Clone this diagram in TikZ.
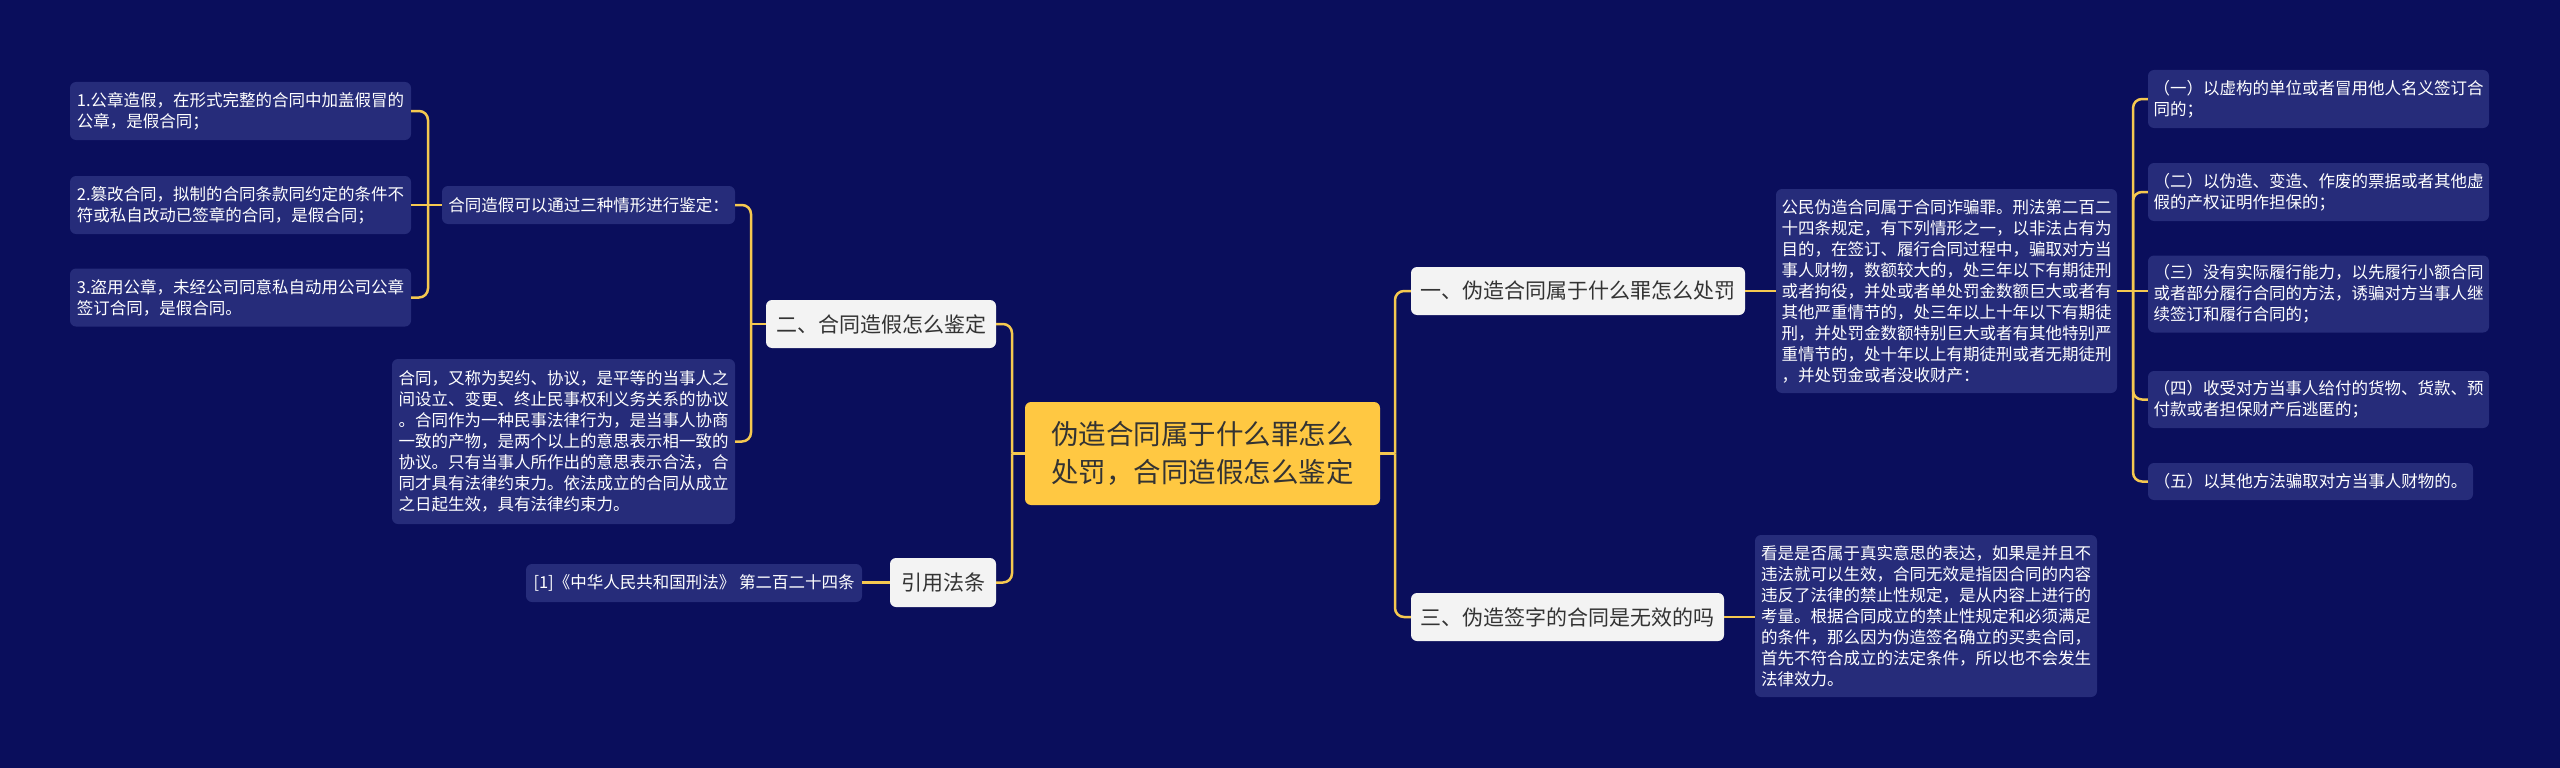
\documentclass[tikz,border=0pt]{standalone}
\usepackage{fontspec}
\setmainfont{Noto Sans CJK SC}
\usetikzlibrary{calc}
\definecolor{bg}{RGB}{10,14,92}
\definecolor{leaf}{RGB}{38,44,122}
\definecolor{branch}{RGB}{243,243,243}
\definecolor{root}{RGB}{255,200,66}
\definecolor{wire}{RGB}{245,200,80}
\definecolor{ink}{RGB}{51,51,51}
\begin{document}
\begin{tikzpicture}[x=1pt,y=-1pt,
  leafbox/.style={fill=leaf, rounded corners=6pt, text=white, align=left, inner sep=0pt, font=\fontsize{16.5}{21}\selectfont},
  branchbox/.style={fill=branch, rounded corners=6pt, text=ink, align=center, inner sep=0pt, font=\fontsize{21}{26}\selectfont},
  rootbox/.style={fill=root, rounded corners=6pt, text=ink, align=left, inner sep=0pt, font=\fontsize{27.5}{38}\selectfont},
  conn/.style={draw=wire, line width=2.5pt, rounded corners=9pt}
]
\useasboundingbox (0,0) rectangle (2560,768);
\fill[bg] (0,0) rectangle (2560,768);

% root
\node[rootbox, minimum width=355pt, minimum height=103pt] (root) at (1202.5,453.5) {伪造合同属于什么罪怎么\\处罚，合同造假怎么鉴定};

% left side
\node[branchbox, minimum width=230pt, minimum height=48pt] (n2) at (881,324) {二、合同造假怎么鉴定};
\node[branchbox, minimum width=106pt, minimum height=49pt] (n4) at (943,582.5) {引用法条};
\node[leafbox, minimum width=293pt, minimum height=38pt] (hd) at (588.5,205) {合同造假可以通过三种情形进行鉴定：};
\node[leafbox, minimum width=341pt, minimum height=58pt] (b1) at (240.5,111) {1.公章造假，在形式完整的合同中加盖假冒的\\公章，是假合同；};
\node[leafbox, minimum width=341pt, minimum height=58pt] (b2) at (240.5,205) {2.篡改合同，拟制的合同条款同约定的条件不\\符或私自改动已签章的合同，是假合同；};
\node[leafbox, minimum width=341pt, minimum height=58pt] (b3) at (240.5,297.5) {3.盗用公章，未经公司同意私自动用公司公章\\签订合同，是假合同。};
\node[leafbox, minimum width=343pt, minimum height=165pt] (p2) at (563.5,441.5) {合同，又称为契约、协议，是平等的当事人之\\间设立、变更、终止民事权利义务关系的协议\\。合同作为一种民事法律行为，是当事人协商\\一致的产物，是两个以上的意思表示相一致的\\协议。只有当事人所作出的意思表示合法，合\\同才具有法律约束力。依法成立的合同从成立\\之日起生效，具有法律约束力。};
\node[leafbox, minimum width=336pt, minimum height=38pt] (cite) at (694,583) {[1]《中华人民共和国刑法》 第二百二十四条};

% right side
\node[branchbox, minimum width=334pt, minimum height=48pt] (n1) at (1578,291) {一、伪造合同属于什么罪怎么处罚};
\node[branchbox, minimum width=313pt, minimum height=48pt] (n3) at (1567.5,617) {三、伪造签字的合同是无效的吗};
\node[leafbox, minimum width=341pt, minimum height=204pt] (p1) at (1946.5,291) {公民伪造合同属于合同诈骗罪。刑法第二百二\\十四条规定，有下列情形之一，以非法占有为\\目的，在签订、履行合同过程中，骗取对方当\\事人财物，数额较大的，处三年以下有期徒刑\\或者拘役，并处或者单处罚金数额巨大或者有\\其他严重情节的，处三年以上十年以下有期徒\\刑，并处罚金数额特别巨大或者有其他特别严\\重情节的，处十年以上有期徒刑或者无期徒刑\\，并处罚金或者没收财产：};
\node[leafbox, minimum width=342pt, minimum height=162pt] (p3) at (1926,616) {看是是否属于真实意思的表达，如果是并且不\\违法就可以生效，合同无效是指因合同的内容\\违反了法律的禁止性规定，是从内容上进行的\\考量。根据合同成立的禁止性规定和必须满足\\的条件，那么因为伪造签名确立的买卖合同，\\首先不符合成立的法定条件，所以也不会发生\\法律效力。};
\node[leafbox, minimum width=341pt, minimum height=58pt] (i1) at (2318.5,99) {（一）以虚构的单位或者冒用他人名义签订合\\同的；};
\node[leafbox, minimum width=341pt, minimum height=58pt] (i2) at (2318.5,192) {（二）以伪造、变造、作废的票据或者其他虚\\假的产权证明作担保的；};
\node[leafbox, minimum width=341pt, minimum height=77pt] (i3) at (2318.5,294) {（三）没有实际履行能力，以先履行小额合同\\或者部分履行合同的方法，诱骗对方当事人继\\续签订和履行合同的；};
\node[leafbox, minimum width=341pt, minimum height=57pt] (i4) at (2318.5,399.5) {（四）收受对方当事人给付的货物、货款、预\\付款或者担保财产后逃匿的；};
\node[leafbox, minimum width=325pt, minimum height=37pt] (i5) at (2310.5,481.5) {（五）以其他方法骗取对方当事人财物的。};

% junction coordinates
\coordinate (jL) at (1012,0);
\coordinate (jR) at (1395,0);
\coordinate (jA) at (428,0);
\coordinate (jB) at (751,0);
\coordinate (jC) at (2133,0);

% root connectors
\draw[conn] (root.west) -- (root.west -| jL);
\draw[conn] (root.west -| jL) |- (n2.east);
\draw[conn] (root.west -| jL) |- (n4.east);
\draw[conn] (root.east) -- (root.east -| jR);
\draw[conn] (root.east -| jR) |- (n1.west);
\draw[conn] (root.east -| jR) |- (n3.west);

% n2 connectors
\draw[conn] (n2.west) -- (n2.west -| jB);
\draw[conn] (n2.west -| jB) |- (hd.east);
\draw[conn] (n2.west -| jB) |- (p2.east);

% hd connectors
\draw[conn] (hd.west) -- (hd.west -| jA);
\draw[conn] (hd.west -| jA) |- (b1.east);
\draw[conn] (hd.west -| jA) -- (hd.west -| b2.east);
\draw[conn] (hd.west -| jA) |- (b3.east);

% n4
\draw[conn] (n4.west) -- (n4.west -| cite.east);

% n1, n3
\draw[conn] (n1.east) -- (n1.east -| p1.west);
\draw[conn] (n3.east) -- (n3.east -| p3.west);

% p1 items
\draw[conn] (p1.east) -- (p1.east -| jC);
\draw[conn] (p1.east -| jC) |- (i1.west);
\draw[conn] (p1.east -| jC) |- (i2.west);
\draw[conn] (p1.east -| jC) -- (p1.east -| i3.west);
\draw[conn] (p1.east -| jC) |- (i4.west);
\draw[conn] (p1.east -| jC) |- (i5.west);
\end{tikzpicture}
\end{document}
